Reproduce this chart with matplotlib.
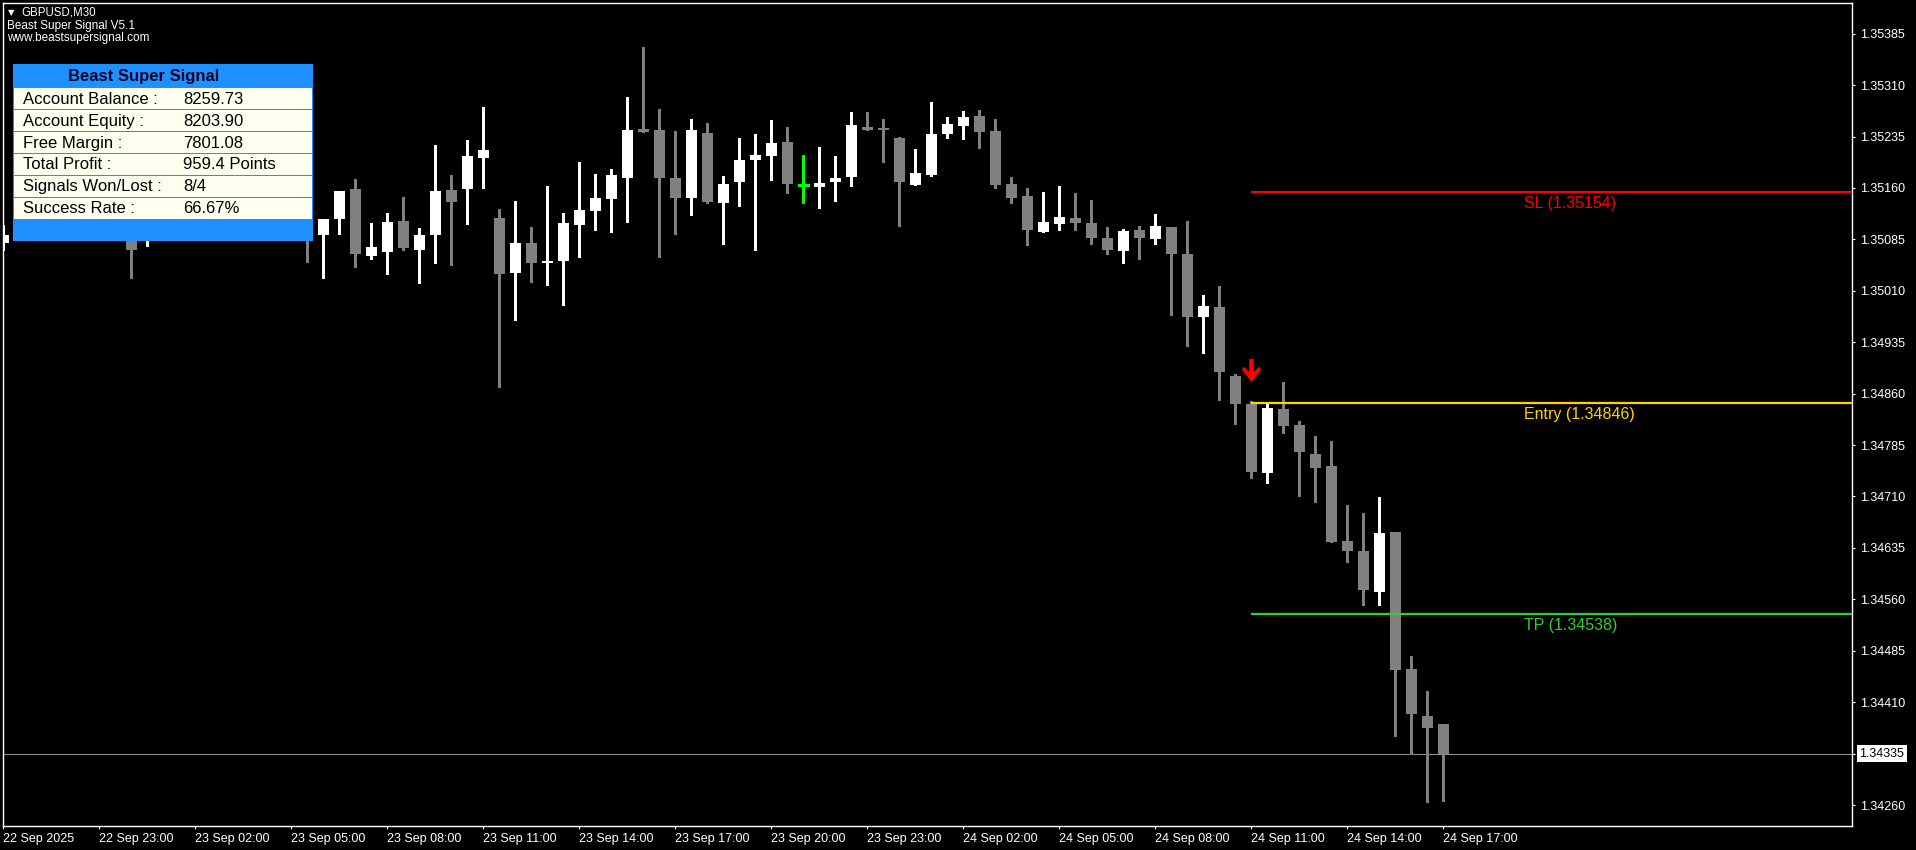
import numpy as np
import matplotlib
matplotlib.use("Agg")
import matplotlib.pyplot as plt
from matplotlib.patches import Rectangle
from matplotlib.path import Path
import matplotlib.transforms as mtransforms

# ---------------- data ----------------
symbol_title = "GBPUSD,M30"
indicator_name = "Beast Super Signal V5.1"
website = "www.beastsupersignal.com"

opens = [1.35080, 1.35091, 1.35110, 1.35100, 1.35140, 1.35125, 1.35098, 1.35120, 1.35108, 1.35090,
         1.35120, 1.35145, 1.35170, 1.35150, 1.35125, 1.35140, 1.35180, 1.35160, 1.35130, 1.35105,
         1.35092, 1.35115, 1.35158, 1.35061, 1.35067, 1.35112, 1.35070, 1.35092, 1.35157, 1.35159,
         1.35203, 1.35116, 1.35036, 1.35080, 1.35051, 1.35054, 1.35106, 1.35127, 1.35144, 1.35175,
         1.35246, 1.35245, 1.35175, 1.35146, 1.35240, 1.35138, 1.35168, 1.35201, 1.35206, 1.35227,
         1.35165, 1.35162, 1.35168, 1.35176, 1.35249, 1.35246, 1.35233, 1.35165, 1.35179, 1.35239,
         1.35251, 1.35265, 1.35243, 1.35166, 1.35148, 1.35096, 1.35108, 1.35116, 1.35109, 1.35087,
         1.35068, 1.35099, 1.35086, 1.35103, 1.35064, 1.34972, 1.34986, 1.34886, 1.34845, 1.34745,
         1.34838, 1.34814, 1.34772, 1.34754, 1.34645, 1.34630, 1.34571, 1.34658, 1.34458, 1.34390,
         1.34378]
highs = [1.35106, 1.35120, 1.35135, 1.35150, 1.35165, 1.35140, 1.35130, 1.35145, 1.35125, 1.35130,
         1.35160, 1.35180, 1.35200, 1.35175, 1.35150, 1.35190, 1.35210, 1.35185, 1.35160, 1.35130,
         1.35115, 1.35156, 1.35173, 1.35109, 1.35123, 1.35147, 1.35102, 1.35223, 1.35179, 1.35230,
         1.35278, 1.35129, 1.35141, 1.35103, 1.35163, 1.35123, 1.35198, 1.35180, 1.35188, 1.35293,
         1.35366, 1.35275, 1.35243, 1.35261, 1.35255, 1.35177, 1.35233, 1.35239, 1.35259, 1.35249,
         1.35208, 1.35220, 1.35207, 1.35271, 1.35271, 1.35261, 1.35234, 1.35217, 1.35285, 1.35264,
         1.35272, 1.35274, 1.35261, 1.35176, 1.35160, 1.35154, 1.35163, 1.35153, 1.35142, 1.35103,
         1.35100, 1.35105, 1.35122, 1.35103, 1.35112, 1.35004, 1.35017, 1.34889, 1.34849, 1.34846,
         1.34877, 1.34820, 1.34798, 1.34791, 1.34698, 1.34686, 1.34709, 1.34658, 1.34477, 1.34426,
         1.34378]
lows = [1.35070, 1.35085, 1.35095, 1.35090, 1.35115, 1.35090, 1.35088, 1.35100, 1.35029, 1.35076,
        1.35100, 1.35130, 1.35140, 1.35110, 1.35100, 1.35130, 1.35150, 1.35120, 1.35095, 1.35052,
        1.35029, 1.35093, 1.35045, 1.35056, 1.35035, 1.35070, 1.35022, 1.35051, 1.35048, 1.35108,
        1.35160, 1.34869, 1.34968, 1.35023, 1.35019, 1.34990, 1.35060, 1.35099, 1.35096, 1.35111,
        1.35241, 1.35060, 1.35093, 1.35120, 1.35138, 1.35079, 1.35133, 1.35070, 1.35171, 1.35152,
        1.35138, 1.35131, 1.35141, 1.35163, 1.35244, 1.35198, 1.35105, 1.35165, 1.35178, 1.35233,
        1.35232, 1.35219, 1.35160, 1.35138, 1.35077, 1.35096, 1.35098, 1.35098, 1.35079, 1.35063,
        1.35051, 1.35057, 1.35079, 1.34974, 1.34930, 1.34920, 1.34851, 1.34816, 1.34737, 1.34730,
        1.34803, 1.34710, 1.34702, 1.34644, 1.34615, 1.34552, 1.34552, 1.34360, 1.34334, 1.34265,
        1.34266]
closes = [1.35091, 1.35110, 1.35100, 1.35140, 1.35125, 1.35098, 1.35120, 1.35108, 1.35070, 1.35120,
          1.35145, 1.35170, 1.35150, 1.35125, 1.35140, 1.35180, 1.35160, 1.35130, 1.35105, 1.35095,
          1.35115, 1.35156, 1.35063, 1.35074, 1.35110, 1.35073, 1.35091, 1.35156, 1.35140, 1.35207,
          1.35216, 1.35035, 1.35080, 1.35051, 1.35054, 1.35109, 1.35128, 1.35145, 1.35179, 1.35245,
          1.35242, 1.35175, 1.35146, 1.35245, 1.35140, 1.35166, 1.35201, 1.35208, 1.35226, 1.35166,
          1.35165, 1.35167, 1.35175, 1.35252, 1.35245, 1.35245, 1.35169, 1.35182, 1.35239, 1.35253,
          1.35264, 1.35241, 1.35165, 1.35146, 1.35098, 1.35110, 1.35118, 1.35109, 1.35087, 1.35070,
          1.35097, 1.35087, 1.35105, 1.35063, 1.34972, 1.34988, 1.34891, 1.34845, 1.34746, 1.34839,
          1.34813, 1.34775, 1.34752, 1.34644, 1.34631, 1.34574, 1.34657, 1.34457, 1.34393, 1.34373,
          1.34335]

x_tick_bars = [0, 6, 12, 18, 24, 30, 36, 42, 48, 54, 60, 66, 72, 78, 84, 90]
x_tick_labels = ["22 Sep 2025", "22 Sep 23:00", "23 Sep 02:00", "23 Sep 05:00", "23 Sep 08:00",
                 "23 Sep 11:00", "23 Sep 14:00", "23 Sep 17:00", "23 Sep 20:00", "23 Sep 23:00",
                 "24 Sep 02:00", "24 Sep 05:00", "24 Sep 08:00", "24 Sep 11:00", "24 Sep 14:00",
                 "24 Sep 17:00"]
y_ticks = [1.35385, 1.35310, 1.35235, 1.35160, 1.35085, 1.35010, 1.34935, 1.34860,
           1.34785, 1.34710, 1.34635, 1.34560, 1.34485, 1.34410, 1.34335, 1.34260]

sl_price = 1.35154
entry_price = 1.34846
tp_price = 1.34538
signal_bar = 78
signal_arrow_price = 1.34894
current_price = 1.34335

panel_title = "Beast Super Signal"
panel_labels = ["Account Balance :", "Account Equity :", "Free Margin :",
                "Total Profit :", "Signals Won/Lost :", "Success Rate :"]
panel_values = ["8259.73", "8203.90", "7801.08", "959.4 Points", "8/4", "66.67%"]

# ---------------- figure ----------------
W, H = 1916, 850
fig = plt.figure(figsize=(W / 100, H / 100), dpi=100, facecolor="black")
ax_l, ax_r, ax_t, ax_b = 3, 1852, 3, 826
ax = fig.add_axes([ax_l / W, (H - ax_b) / H, (ax_r - ax_l) / W, (ax_b - ax_t) / H])
ax.set_facecolor("black")

ymin, ymax = 1.342294, 1.354298
xmax = (ax_r - ax_l) / 16.0
ax.set_xlim(0, xmax)
ax.set_ylim(ymin, ymax)
px_price = (ymax - ymin) / (ax_b - ax_t)

o = np.array(opens); h = np.array(highs); l = np.array(lows); c = np.array(closes)
idx = np.arange(len(o))
bull = c > o
doji = c == o
colors = np.where(bull, "#FFFFFF", "#808080").astype(object)
colors[doji] = "#00FF00"

ax.vlines(idx, l, h, colors=list(colors), linewidth=0.8, antialiased=False, zorder=3)
body_w = 11 / 16
bottom = np.minimum(o, c)
height = np.maximum(np.abs(c - o), 1.3 * px_price)
nd = ~doji
ax.bar(idx[nd], height[nd], bottom=bottom[nd], width=body_w, color=list(colors[nd]),
       linewidth=0, antialiased=False, zorder=4)
ax.hlines(c[doji], idx[doji] - body_w / 2, idx[doji] + body_w / 2, colors="#00FF00",
          linewidth=0.8, antialiased=False, zorder=4)

# current price line
ax.axhline(current_price, color="#8A8F9A", linewidth=0.8, zorder=2)

# SL / Entry / TP lines
levels = [("SL", sl_price, "#FF0000"), ("Entry", entry_price, "#FFD200"), ("TP", tp_price, "#32CD32")]
for name, p, col in levels:
    ax.hlines(p, signal_bar, xmax, colors=col, linewidth=1.6, zorder=5)
    ax.annotate(f"{name} ({p:.5f})", xy=(0.8226, p), xycoords=("axes fraction", "data"),
                xytext=(0, -8.0), textcoords="offset points", ha="left", va="center",
                color=col, fontsize=11.5, family="Liberation Sans", zorder=6)

# signal arrow
verts = [(-2.3, 11.5), (2.3, 11.5), (2.3, -1.5), (7.6, 3.8), (9.6, 1.0), (0, -11.5),
         (-9.6, 1.0), (-7.6, 3.8), (-2.3, -1.5), (-2.3, 11.5)]
codes = [Path.MOVETO] + [Path.LINETO] * 8 + [Path.CLOSEPOLY]
arrow = Path(verts, codes)
ax.plot([signal_bar], [signal_arrow_price], marker=arrow, markersize=23 * 0.72,
        color="#FF0000", markeredgewidth=0, linestyle="none", zorder=7)

# axes styling
for s in ax.spines.values():
    s.set_color("white")
    s.set_linewidth(1.0)
ax.yaxis.tick_right()
ax.set_yticks(y_ticks)
ax.set_yticklabels([f"{v:.5f}" for v in y_ticks])
ax.set_xticks(x_tick_bars)
ax.set_xticklabels(x_tick_labels)
ax.tick_params(axis="y", colors="white", length=2.5, width=0.8, pad=3.5, labelsize=9)
ax.tick_params(axis="x", colors="white", length=2.5, width=0.8, pad=2.5, labelsize=9)
for lbl in ax.get_xticklabels():
    lbl.set_ha("left")
    lbl.set_family("Liberation Sans")
for lbl in ax.get_yticklabels():
    lbl.set_family("Liberation Sans")

# current price box on the price scale
ax.text(1.0040, current_price, f"{current_price:.5f}",
        transform=mtransforms.blended_transform_factory(ax.transAxes, ax.transData),
        ha="left", va="center", color="black", fontsize=9, family="Liberation Sans",
        bbox=dict(facecolor="white", edgecolor="none", pad=1.6), zorder=10, clip_on=False)

# ---------------- overlays in pixel coordinates ----------------
T = mtransforms.Affine2D().scale(1 / W, -1 / H).translate(0, 1) + fig.transFigure

fig.text(11, 12.5, "\u25BC", transform=T, color="white", fontsize=6, ha="center", va="center",
         family="DejaVu Sans")
fig.text(21.7, 12.5, symbol_title, transform=T, color="white", fontsize=8.3, va="center",
         family="Liberation Sans")
fig.text(7.3, 25.7, indicator_name, transform=T, color="white", fontsize=8.5, va="center",
         family="Liberation Sans")
fig.text(7.3, 37.7, website, transform=T, color="white", fontsize=8.5, va="center",
         family="Liberation Sans")

px0, px1, py0, py1 = 13.3, 312.7, 64.3, 241.3
fig.add_artist(Rectangle((px0, py0), px1 - px0, py1 - py0, transform=T,
                         facecolor="#1E90FF", edgecolor="none", zorder=20))
row_top = 87.7
row_h = (219.3 - 87.7) / len(panel_labels)
for i, (lab, val) in enumerate(zip(panel_labels, panel_values)):
    y0 = row_top + i * row_h
    fig.add_artist(Rectangle((14.0, y0 + 0.5), 298.0, row_h - 1.0, transform=T,
                             facecolor="#FFFFF0", edgecolor="none", zorder=21))
    yc = y0 + row_h / 2 + 0.5
    fig.text(22.7, yc, lab, transform=T, color="black", fontsize=12, va="center",
             family="Liberation Sans", zorder=22)
    fig.text(183.0, yc, val, transform=T, color="black", fontsize=12, va="center",
             family="Liberation Sans", zorder=22)
fig.text(68.0, 76.0, panel_title, transform=T, color="#05052A", fontsize=12, va="center",
         fontweight="bold", family="Liberation Sans", zorder=22)

fig.savefig("out.png", dpi=100, facecolor="black")
